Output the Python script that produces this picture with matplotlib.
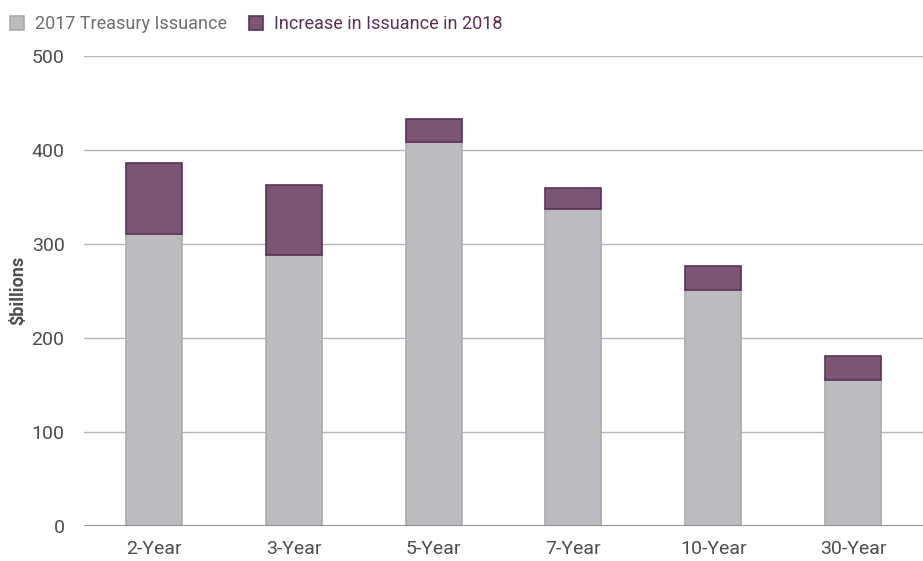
import numpy as np
import matplotlib.pyplot as plt

plt.rcParams['font.family'] = ['Roboto', 'DejaVu Sans']

categories = ['2-Year', '3-Year', '5-Year', '7-Year', '10-Year', '30-Year']
issuance_2017 = [311, 288, 408, 337, 251, 155]
increase_2018 = [75, 75, 25, 23, 26, 26]

grey = '#BBBCC0'
grey_edge = '#A9AAAE'
purple = '#7A5674'
purple_edge = '#5B3155'

fig = plt.figure(figsize=(9.23, 5.61), dpi=100)
ax = fig.add_axes([84 / 923, 1 - 526 / 561, 1 - 84 / 923, (526 - 56) / 561])

x = np.arange(len(categories))
b1 = ax.bar(x, issuance_2017, width=0.4, color=grey, edgecolor=grey_edge, linewidth=1.2,
            label='2017 Treasury Issuance', zorder=3)
b2 = ax.bar(x, increase_2018, bottom=issuance_2017, width=0.4, color=purple,
            edgecolor=purple_edge, linewidth=1.2, label='Increase in Issuance in 2018', zorder=3)

ax.set_xlim(-0.5, len(categories) - 0.5)
ax.set_ylim(0, 500)
ax.set_yticks(range(0, 501, 100))
ax.set_xticks(x)
ax.set_xticklabels(categories)
ax.yaxis.grid(True, color='#B5B5B8', linewidth=1.0, zorder=0)
ax.axhline(0, color='#7F7F82', linewidth=1.8, zorder=4)
for s in ax.spines.values():
    s.set_visible(False)
ax.tick_params(axis='both', length=0, labelsize=14, labelcolor='#4D4D4F')
ax.tick_params(axis='y', pad=14)
ax.tick_params(axis='x', pad=10)

fig.text(18 / 923, 1 - 290 / 561, '$billions', rotation=90, ha='center', va='center',
         fontsize=13, fontweight='bold', color='#4D4D4F')

leg = fig.legend(handles=[b1, b2], loc='upper left', bbox_to_anchor=(-0.007, 1.002), ncol=2,
                 frameon=False, fontsize=13, handlelength=0.8, handleheight=0.8,
                 handletextpad=0.6, columnspacing=1.2)
leg.get_texts()[0].set_color('#6D6E71')
leg.get_texts()[1].set_color('#5E2F58')

fig.savefig('out.png', dpi=100)
